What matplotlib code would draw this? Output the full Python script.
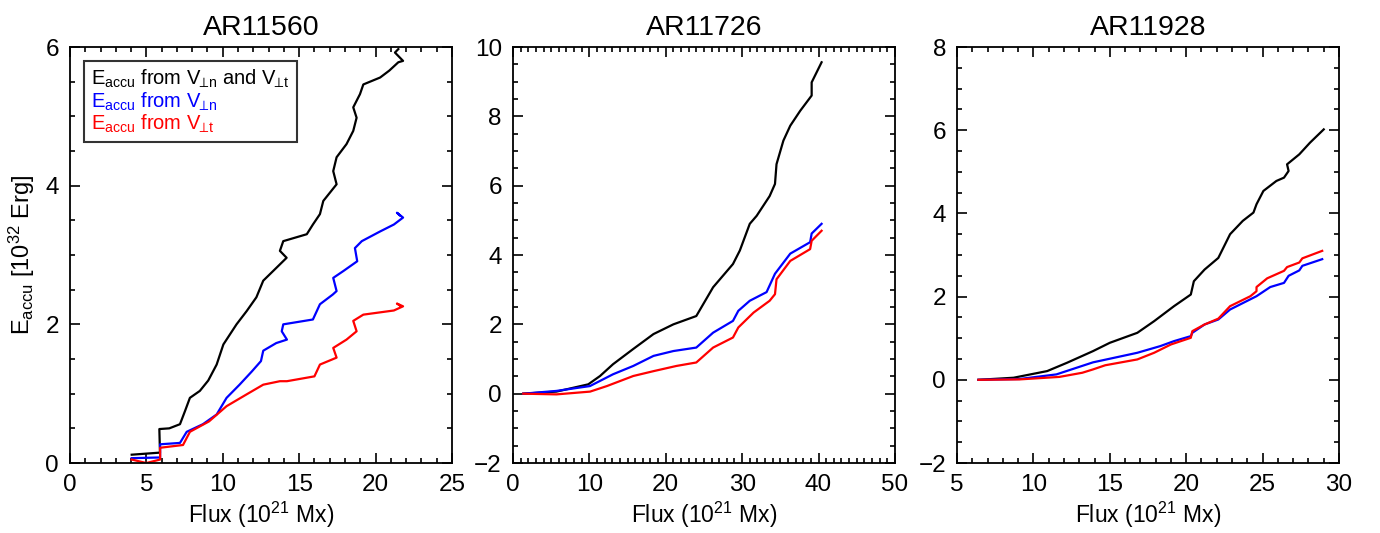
import matplotlib
matplotlib.use("Agg")
import matplotlib.pyplot as plt
from matplotlib.ticker import MultipleLocator
import numpy as np

plt.rcParams['font.family'] = ['Liberation Sans', 'DejaVu Sans']
plt.rcParams['mathtext.fontset'] = 'custom'
plt.rcParams['mathtext.rm'] = 'Liberation Sans'
plt.rcParams['mathtext.it'] = 'Liberation Sans'

# AR11560
x1_tot = [4.04, 5.89, 5.85, 6.5, 7.2, 7.53, 7.85, 8.5, 9.05, 9.6, 10.04, 10.9, 11.56, 12.2, 12.65,
          13.3, 14.18, 13.74, 13.96, 15.5, 15.9, 16.36, 16.58, 17.45, 17.23, 17.45, 18.1, 18.54,
          18.76, 18.54, 18.98, 19.2, 20.3, 20.9, 21.49, 21.8, 21.27, 21.49]
y1_tot = [0.12, 0.15, 0.49, 0.5, 0.56, 0.75, 0.94, 1.04, 1.19, 1.42, 1.71, 2.0, 2.19, 2.39, 2.63,
          2.77, 2.96, 3.06, 3.2, 3.3, 3.44, 3.59, 3.78, 4.02, 4.21, 4.41, 4.6, 4.79,
          4.98, 5.13, 5.32, 5.46, 5.56, 5.66, 5.78, 5.8, 5.92, 5.97]
x1_n = [4.04, 5.9, 5.9, 7.2, 7.64, 8.7, 9.6, 10.25, 11.1, 11.9, 12.5, 12.65, 13.5, 14.2, 13.86,
        13.96, 15.9, 16.36, 17.2, 17.45, 17.23, 17.9, 18.8, 18.65, 19.1, 20.3, 21.2, 21.8, 21.4, 21.6]
y1_n = [0.07, 0.08, 0.27, 0.29, 0.45, 0.56, 0.7, 0.94, 1.13, 1.32, 1.47, 1.62, 1.73, 1.78, 1.9,
        2.0, 2.07, 2.29, 2.43, 2.48, 2.67, 2.77, 2.91, 3.1, 3.2, 3.34, 3.44, 3.54, 3.61, 3.57]
x1_t = [4.04, 5.0, 5.9, 5.9, 7.4, 7.85, 9.1, 10.25, 11.56, 12.65, 13.74, 14.2, 16.0, 16.36, 17.45,
        17.23, 18.1, 18.76, 18.54, 19.2, 21.2, 21.8, 21.4, 21.6]
y1_t = [0.05, 0.0, 0.05, 0.22, 0.26, 0.45, 0.6, 0.82, 0.99, 1.13, 1.18, 1.18, 1.25, 1.42, 1.52,
        1.66, 1.78, 1.9, 2.05, 2.14, 2.2, 2.26, 2.3, 2.27]

# AR11726
x2_tot = [1.35, 5.7, 9.86, 11.4, 13.1, 15.75, 18.4, 21.0, 24.0, 26.2, 28.8, 29.7, 31.0, 31.9,
          33.6, 34.3, 34.5, 35.4, 36.3, 37.6, 39.1, 39.1, 40.4]
y2_tot = [0.0, 0.06, 0.27, 0.51, 0.85, 1.29, 1.72, 2.0, 2.24, 3.07, 3.74, 4.13, 4.9, 5.13,
          5.7, 6.05, 6.62, 7.3, 7.73, 8.16, 8.6, 8.98, 9.56]
x2_n = [1.35, 5.7, 10.08, 13.1, 15.75, 18.4, 21.0, 24.0, 26.2, 28.8, 29.5, 31.0, 33.2, 34.3,
        36.3, 38.9, 39.1, 40.4]
y2_n = [0.0, 0.08, 0.22, 0.56, 0.8, 1.09, 1.23, 1.33, 1.76, 2.1, 2.39, 2.68, 2.93, 3.46,
        4.04, 4.37, 4.62, 4.9]
x2_t = [1.35, 5.7, 10.1, 12.3, 15.75, 18.4, 21.4, 24.0, 26.2, 28.8, 29.5, 31.5, 33.6, 34.3,
        34.5, 36.3, 38.9, 39.1, 40.4]
y2_t = [0.0, -0.02, 0.06, 0.22, 0.51, 0.65, 0.8, 0.9, 1.33, 1.62, 1.91, 2.34, 2.68, 2.87,
        3.3, 3.83, 4.17, 4.41, 4.7]

# AR11928
x3_tot = [6.4, 8.7, 10.9, 12.2, 13.9, 15.0, 16.8, 17.9, 19.2, 20.3, 20.5, 21.2, 22.1, 22.87,
          23.7, 24.4, 24.6, 25.05, 25.9, 26.4, 26.7, 26.6, 27.4, 28.1, 29.0]
y3_tot = [0.0, 0.05, 0.21, 0.41, 0.69, 0.89, 1.13, 1.41, 1.77, 2.05, 2.37, 2.65, 2.93, 3.5,
          3.82, 4.02, 4.22, 4.54, 4.78, 4.86, 5.02, 5.18, 5.42, 5.7, 6.02]
x3_n = [6.4, 9.1, 11.5, 13.9, 16.8, 18.3, 19.2, 20.3, 20.4, 21.2, 22.1, 22.87, 24.6, 25.5,
        26.4, 26.7, 27.4, 27.6, 28.9]
y3_n = [0.0, 0.02, 0.13, 0.42, 0.65, 0.81, 0.93, 1.05, 1.13, 1.33, 1.45, 1.69, 2.01, 2.23,
        2.33, 2.5, 2.63, 2.74, 2.9]
x3_t = [6.4, 9.1, 11.7, 13.2, 13.9, 14.7, 16.8, 17.9, 19.0, 20.3, 20.4, 21.2, 22.1, 22.87,
        24.2, 24.6, 24.6, 25.3, 26.4, 26.6, 27.4, 27.6, 28.9]
y3_t = [0.0, 0.01, 0.07, 0.17, 0.25, 0.35, 0.49, 0.65, 0.85, 1.01, 1.17, 1.33, 1.47, 1.77,
        2.01, 2.13, 2.23, 2.44, 2.62, 2.71, 2.82, 2.92, 3.1]

titles = ['AR11560', 'AR11726', 'AR11928']
xlims = [(0, 25), (0, 50), (5, 30)]
ylims = [(0, 6), (-2, 10), (-2, 8)]
xmajor = [5, 10, 5]
ymajor = [2, 2, 2]

fig = plt.figure(figsize=(13.8, 5.33), dpi=100)
lefts = [0.0507, 0.3717, 0.6935]
axes = [fig.add_axes([l, 0.1313, 0.2768, 0.7805]) for l in lefts]

data = [(x1_tot, y1_tot, x1_n, y1_n, x1_t, y1_t),
        (x2_tot, y2_tot, x2_n, y2_n, x2_t, y2_t),
        (x3_tot, y3_tot, x3_n, y3_n, x3_t, y3_t)]

labels = [r'$\mathrm{E}_{\mathrm{accu}}$ from $\mathrm{V}_{\!\!\perp\!\mathrm{n}}$ and $\mathrm{V}_{\!\!\perp\!\mathrm{t}}$',
          r'$\mathrm{E}_{\mathrm{accu}}$ from $\mathrm{V}_{\!\!\perp\!\mathrm{n}}$',
          r'$\mathrm{E}_{\mathrm{accu}}$ from $\mathrm{V}_{\!\!\perp\!\mathrm{t}}$']

for i, ax in enumerate(axes):
    xt, yt, xn, yn, xtt, ytt = data[i]
    ax.plot(xt, yt, color='black', lw=1.6, label=labels[0])
    ax.plot(xn, yn, color='blue', lw=1.6, label=labels[1])
    ax.plot(xtt, ytt, color='red', lw=1.6, label=labels[2])
    ax.set_xlim(*xlims[i])
    ax.set_ylim(*ylims[i])
    ax.xaxis.set_major_locator(MultipleLocator(xmajor[i]))
    ax.xaxis.set_minor_locator(MultipleLocator(1))
    ax.yaxis.set_major_locator(MultipleLocator(ymajor[i]))
    ax.yaxis.set_minor_locator(MultipleLocator(0.5))
    ax.tick_params(which='both', direction='in', top=True, right=True, labelsize=17.5, width=1.2)
    ax.tick_params(which='major', length=7, pad=8)
    ax.tick_params(which='minor', length=3.5)
    for s in ax.spines.values():
        s.set_linewidth(1.3)
    ax.set_title(titles[i], fontsize=20.5, pad=9)
    ax.set_xlabel(r'Flux (10$^{21}$ Mx)', fontsize=16.5, labelpad=3)

axes[0].set_ylabel(r'$\mathrm{E}_{\mathrm{accu}}$ [10$^{32}$ Erg]', fontsize=17, labelpad=6)
leg = axes[0].legend(loc='upper left', handlelength=0, handletextpad=0, labelcolor='linecolor',
                     fontsize=14.5, frameon=True, fancybox=False, edgecolor='black',
                     borderaxespad=0.7, borderpad=0.35, labelspacing=0.0)
leg.get_frame().set_linewidth(1.5)
for h in leg.legend_handles:
    h.set_visible(False)

fig.savefig('out.png', dpi=100)
